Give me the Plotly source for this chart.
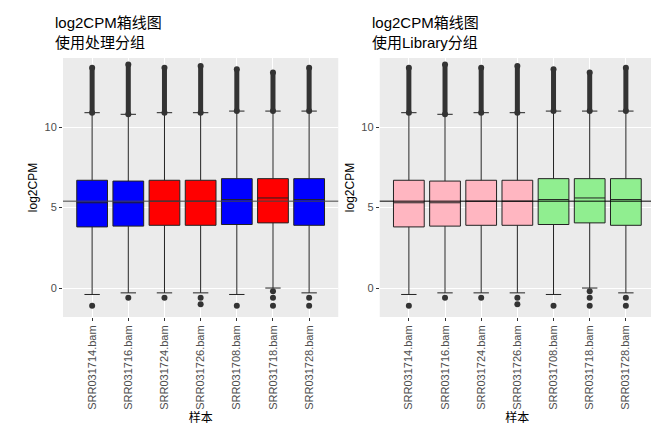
import plotly.graph_objects as go
from plotly.subplots import make_subplots

samples = ["SRR031714.bam", "SRR031716.bam", "SRR031724.bam", "SRR031726.bam",
           "SRR031708.bam", "SRR031718.bam", "SRR031728.bam"]
q1 = [3.8, 3.85, 3.9, 3.9, 3.95, 4.05, 3.9]
med = [5.3, 5.3, 5.4, 5.4, 5.5, 5.6, 5.5]
q3 = [6.7, 6.65, 6.7, 6.7, 6.8, 6.8, 6.8]
low_whisk = [-0.4, -0.3, -0.3, -0.3, -0.4, 0.0, -0.3]
up_whisk = [10.9, 10.8, 10.9, 10.9, 11.0, 11.0, 11.0]
up_out_max = [13.7, 13.9, 13.7, 13.8, 13.6, 13.4, 13.7]
low_out = [[-1.1], [-0.6], [-0.6], [-0.6, -1.0], [-1.1], [-0.2, -0.6, -1.1], [-0.6, -1.1]]
treat_colors = ["blue", "blue", "red", "red", "blue", "red", "blue"]
lib_colors = ["#FFB6C1"] * 4 + ["#90EE90"] * 3
hline_y = 5.4

fig = make_subplots(rows=1, cols=2, horizontal_spacing=0.07)

for col, colors in [(1, treat_colors), (2, lib_colors)]:
    for i, s in enumerate(samples):
        # dense outlier streak above the upper whisker
        fig.add_trace(go.Scatter(x=[s, s], y=[up_whisk[i], up_out_max[i]], mode="lines+markers",
                                 line=dict(color="#333333", width=5),
                                 marker=dict(color="#333333", size=6),
                                 showlegend=False, hoverinfo="skip"), row=1, col=col)
        fig.add_trace(go.Scatter(x=[s] * len(low_out[i]), y=low_out[i], mode="markers",
                                 marker=dict(color="#333333", size=6),
                                 showlegend=False, hoverinfo="skip"), row=1, col=col)
        fig.add_trace(go.Box(x=[s], q1=[q1[i]], median=[med[i]], q3=[q3[i]],
                             lowerfence=[low_whisk[i]], upperfence=[up_whisk[i]],
                             fillcolor=colors[i], line=dict(color="#222222", width=1),
                             width=0.85, boxpoints=False, showlegend=False), row=1, col=col)
    fig.add_hline(y=hline_y, line=dict(color="#444444" if col == 1 else "black", width=1),
                  row=1, col=col)

axis_font = dict(family="Liberation Sans, Noto Sans CJK SC", size=12, color="black")
tick_font = dict(family="Liberation Sans", size=11, color="#4D4D4D")
for col in (1, 2):
    fig.update_xaxes(categoryorder="array", categoryarray=samples, tickangle=-90,
                     tickfont=tick_font, showgrid=True, gridcolor="white",
                     ticks="outside", ticklen=3, tickcolor="#333333",
                     title=dict(text="样本", font=axis_font, standoff=2), row=1, col=col)
    fig.update_yaxes(range=[-1.8, 14.3], tickvals=[0, 5, 10], tickfont=tick_font,
                     showgrid=True, gridcolor="white", zeroline=False,
                     ticks="outside", ticklen=3, tickcolor="#333333",
                     title=dict(text="log2CPM", font=axis_font, standoff=4), row=1, col=col)

title_font = dict(family="Liberation Sans, Noto Sans CJK SC", size=15, color="black")
fig.add_annotation(text="log2CPM箱线图<br>使用处理分组", x=0, y=1.02, xref="x domain", yref="paper",
                   xanchor="left", yanchor="bottom", showarrow=False, align="left",
                   font=title_font, xshift=-10)
fig.add_annotation(text="log2CPM箱线图<br>使用Library分组", x=0, y=1.02, xref="x2 domain", yref="paper",
                   xanchor="left", yanchor="bottom", showarrow=False, align="left",
                   font=title_font, xshift=-10)

fig.update_layout(width=659, height=437, plot_bgcolor="#EBEBEB", paper_bgcolor="white",
                  margin=dict(l=55, r=12, t=50, b=128), boxgap=0.1)
fig.write_html("out.html")
